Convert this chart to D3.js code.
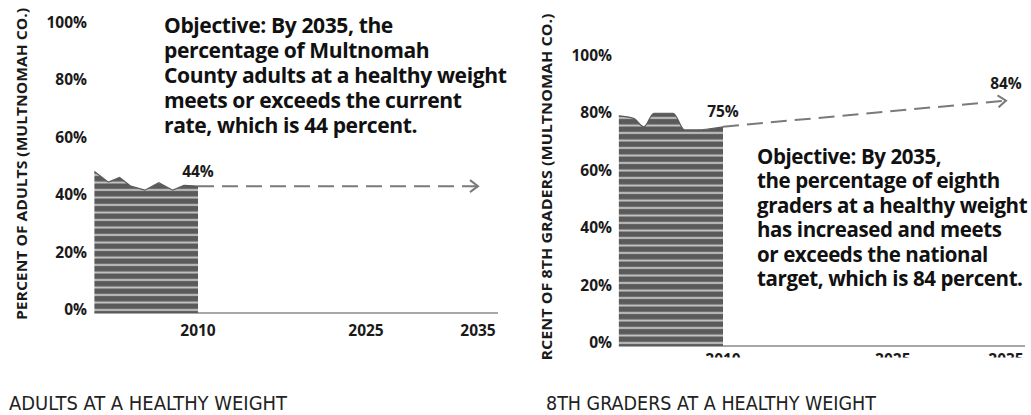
<!DOCTYPE html>
<html>
<head>
<meta charset="utf-8">
<script src="https://cdn.jsdelivr.net/npm/d3@7"></script>
<style>
  html, body { margin: 0; padding: 0; background: #fff; }
  svg { display: block; }
  .tick-label { font-family: "Open Sans", "Noto Sans", sans-serif; font-weight: 700; fill: #1a1a1a; }
  .title { font-family: "Open Sans", "Noto Sans", sans-serif; font-weight: 700; fill: #111; letter-spacing: -0.4px; }
  .footer { font-family: "Liberation Sans Narrow", "DejaVu Sans Condensed", "Roboto", sans-serif; font-stretch: condensed; fill: #222; }
</style>
</head>
<body>
<script>
// ---------------- data ----------------
const yTicks = [0, 20, 40, 60, 80, 100];
const xTickYears = [2010, 2025, 2035];

// Adults at a healthy weight (Multnomah Co.), historical profile
const adultYears  = [2000.75, 2002, 2003, 2004, 2005.25, 2006.5, 2007.75, 2008.75, 2010];
const adultValues = [49.3, 45.6, 47.2, 44.2, 42.8, 45.4, 42.8, 44.5, 44.2];
const adultCurrent = 44;          // label
const adultTargetYear = 2035;
const adultTargetValue = 44.2;    // drawn position of target arrow

// 8th graders at a healthy weight
const gradeYears  = [2000.8, 2002.1, 2003.0, 2003.9, 2005.6, 2006.6, 2007.7, 2010];
const gradeValues = [80.2, 79.3, 76.4, 81.1, 81.1, 75.3, 75.3, 76.4];
const gradeCurrent = 75;
const gradeTargetLabel = 84;
const gradeTargetYear = 2035;
const gradeTargetValue = 85.5;

const adultTitle = [
  "Objective: By 2035, the",
  "percentage of Multnomah",
  "County adults at a healthy weight",
  "meets or exceeds the current",
  "rate, which is 44 percent."
];
const gradeTitle = [
  "Objective: By 2035,",
  "the percentage of eighth",
  "graders at a healthy weight",
  "has increased and meets",
  "or exceeds the national",
  "target, which is 84 percent."
];
const adultYAxisTitle = "PERCENT OF ADULTS (MULTNOMAH CO.)";
const gradeYAxisTitle = "RCENT OF 8TH GRADERS (MULTNOMAH CO.)";
const adultFooter = "ADULTS AT A HEALTHY WEIGHT";
const gradeFooter = "8TH GRADERS AT A HEALTHY WEIGHT";

// ---------------- drawing ----------------
const W = 1031, H = 415;
const svg = d3.select("body").append("svg").attr("width", W).attr("height", H);
const defs = svg.append("defs");

const DARK = "#5a5a5a", LIGHT = "#c9c9c9", LINE = "#7a7a7a";

function makePattern(id, baseY) {
  const p = defs.append("pattern").attr("id", id)
    .attr("patternUnits", "userSpaceOnUse")
    .attr("x", 0).attr("y", baseY)
    .attr("width", 20).attr("height", 7.5);
  p.append("rect").attr("width", 20).attr("height", 7.5).attr("fill", DARK);
  p.append("rect").attr("y", 3.5).attr("width", 20).attr("height", 1.9).attr("fill", LIGHT);
}

defs.append("marker").attr("id", "arrow")
  .attr("viewBox", "0 0 12 14").attr("refX", 10).attr("refY", 7)
  .attr("markerUnits", "userSpaceOnUse")
  .attr("markerWidth", 12).attr("markerHeight", 14).attr("orient", "auto")
  .append("path").attr("d", "M2,1 L10,7 L2,13")
  .attr("fill", "none").attr("stroke", LINE).attr("stroke-width", 2);

function panel(cfg) {
  const x = d3.scaleLinear().domain([2010, 2035]).range(cfg.xRange);
  const y = d3.scaleLinear().domain([0, 100]).range(cfg.yRange);
  const g = svg.append("g");
  makePattern(cfg.patId, y(0));

  // baseline
  g.append("line")
    .attr("x1", x(cfg.years[0])).attr("x2", cfg.baseEnd)
    .attr("y1", y(0)).attr("y2", y(0))
    .attr("stroke", "#8a8a8a").attr("stroke-width", 1.6);

  // area (bar)
  const area = d3.area().x((d, i) => x(cfg.years[i])).y0(y(0)).y1(d => y(d)).curve(cfg.curve);
  g.append("path").datum(cfg.values).attr("d", area).attr("fill", `url(#${cfg.patId})`);
  const topLine = d3.line().x((d, i) => x(cfg.years[i])).y(d => y(d)).curve(cfg.curve);
  g.append("path").datum(cfg.values).attr("d", topLine)
    .attr("fill", "none").attr("stroke", DARK).attr("stroke-width", 1.2);

  // projection
  const last = cfg.values[cfg.values.length - 1];
  g.append("line")
    .attr("x1", x(2010)).attr("y1", y(last))
    .attr("x2", x(cfg.targetYear)).attr("y2", y(cfg.targetValue))
    .attr("stroke", LINE).attr("stroke-width", 2)
    .attr("stroke-dasharray", "16,8")
    .attr("marker-end", "url(#arrow)");

  // y ticks
  g.selectAll(".yt").data(yTicks).enter().append("text")
    .attr("class", "tick-label")
    .attr("x", cfg.yLabelX).attr("y", d => y(d) + 2)
    .attr("text-anchor", "end").attr("font-size", 15.5)
    .text(d => d + "%");

  // x ticks
  const xt = g.append("g");
  if (cfg.clipTicks) {
    defs.append("clipPath").attr("id", cfg.patId + "clip")
      .append("rect").attr("x", cfg.xRange[0] - 40).attr("y", 0)
      .attr("width", 400).attr("height", cfg.clipTicks);
    xt.attr("clip-path", `url(#${cfg.patId}clip)`);
  }
  xt.selectAll("text").data(xTickYears).enter().append("text")
    .attr("class", "tick-label")
    .attr("x", d => x(d)).attr("y", cfg.xLabelY)
    .attr("text-anchor", "middle").attr("font-size", 15.5)
    .text(d => d);

  // value labels
  g.append("text").attr("class", "tick-label")
    .attr("x", x(2010)).attr("y", cfg.curLabelY)
    .attr("text-anchor", "middle").attr("font-size", 15.5)
    .text(cfg.current + "%");
  if (cfg.targetLabel !== undefined) {
    g.append("text").attr("class", "tick-label")
      .attr("x", x(cfg.targetYear)).attr("y", cfg.targetLabelY)
      .attr("text-anchor", "middle").attr("font-size", 15.5)
      .text(cfg.targetLabel + "%");
  }

  // y axis title
  g.append("text").attr("class", "tick-label")
    .attr("transform", `translate(${cfg.yTitle.x},${cfg.yTitle.cy}) rotate(-90)`)
    .attr("text-anchor", "middle").attr("font-size", 15)
    .attr("textLength", cfg.yTitle.len).attr("lengthAdjust", "spacingAndGlyphs")
    .text(cfg.yTitle.text);

  return { x, y, g };
}

panel({
  patId: "patA", xRange: [198, 478], yRange: [313, 26], baseEnd: 498,
  years: adultYears, values: adultValues, curve: d3.curveLinear,
  targetYear: adultTargetYear, targetValue: adultTargetValue,
  yLabelX: 87, xLabelY: 336, curLabelY: 177, current: adultCurrent,
  yTitle: { x: 27, cy: 164, len: 312, text: adultYAxisTitle }
});

panel({
  patId: "patB", xRange: [723, 1006], yRange: [346, 59], baseEnd: 1025,
  years: gradeYears, values: gradeValues, curve: d3.curveMonotoneX,
  targetYear: gradeTargetYear, targetValue: gradeTargetValue,
  yLabelX: 612, xLabelY: 365, clipTicks: 357.5,
  curLabelY: 117, current: gradeCurrent,
  targetLabel: gradeTargetLabel, targetLabelY: 89,
  yTitle: { x: 552, cy: 187, len: 347, text: gradeYAxisTitle }
});

// ---- titles (font size calibrated on each block's widest line) ----
function block(lines, x0, y0, lh, widest, target) {
  const probe = svg.append("text").attr("class", "title").attr("font-size", 20).text(lines[widest]);
  const pw = probe.node().getComputedTextLength();
  probe.remove();
  const size = 20 * target / pw;
  svg.append("g").selectAll("text").data(lines).enter().append("text")
    .attr("class", "title").attr("font-size", size)
    .attr("x", x0).attr("y", (d, i) => y0 + i * lh)
    .text(d => d);
}
block(adultTitle, 164, 33, 25, 2, 342);
block(gradeTitle, 757, 164, 24.4, 2, 270);

// footers
svg.append("text").attr("class", "footer").attr("x", 9).attr("y", 410)
  .attr("font-size", 19).attr("textLength", 278).attr("lengthAdjust", "spacingAndGlyphs")
  .text(adultFooter);
svg.append("text").attr("class", "footer").attr("x", 546).attr("y", 410)
  .attr("font-size", 19).attr("textLength", 330).attr("lengthAdjust", "spacingAndGlyphs")
  .text(gradeFooter);
</script>
</body>
</html>
